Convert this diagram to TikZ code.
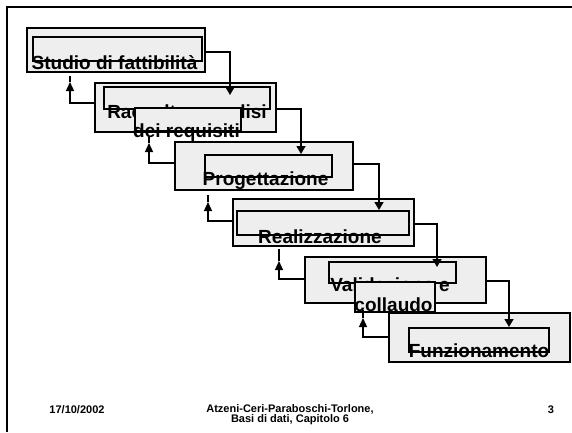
\documentclass[tikz,border=0pt]{standalone}
\usepackage{fontspec}
\setmainfont{Liberation Sans}
\usetikzlibrary{arrows.meta}
\definecolor{boxgray}{HTML}{EEEEEE}
\begin{document}
\begin{tikzpicture}[x=1pt,y=-1pt,
  stagebox/.style={draw=black,fill=boxgray,line width=1.2pt,inner sep=0pt,outer sep=0pt},
  panel/.style={draw=black,fill=boxgray,line width=1.1pt},
  stagelabel/.style={font=\fontsize{19}{22}\selectfont\bfseries,inner sep=0pt,anchor=base},
  conn/.style={line width=1.4pt},
  downtip/.style={-{Triangle[length=8pt,width=9pt]}},
  uptip/.style={-{Triangle[length=9pt,width=8pt]}},
  foot/.style={font=\fontsize{11}{10}\selectfont\bfseries,inner sep=0pt}
]
\useasboundingbox (0,0) rectangle (572,432);

% slide frame
\draw[line width=1.6pt] (7,432) -- (7,7) -- (572,7);

% stage 1
\node[stagebox,minimum width=178pt,minimum height=44pt] (b1) at (116,50) {};
\draw[panel] (33,37) rectangle (202,61);
\node[stagelabel] (t1) at (114.5,69) {Studio di fattibilità};

% stage 2
\node[stagebox,minimum width=181pt,minimum height=49pt] (b2) at (185.5,107.5) {};
\draw[panel] (104,87) rectangle (270,109);
\node[stagelabel] (t2a) at (187,118) {Raccolta e analisi};
\draw[panel] (135,108) rectangle (241,131);
\node[stagelabel] (t2b) at (186.5,137) {dei requisiti};

% stage 3
\node[stagebox,minimum width=178pt,minimum height=48pt] (b3) at (264,166) {};
\draw[panel] (205,155) rectangle (332,177);
\node[stagelabel] (t3) at (265.5,185) {Progettazione};

% stage 4
\node[stagebox,minimum width=181pt,minimum height=47pt] (b4) at (323.5,222.5) {};
\draw[panel] (237,211) rectangle (409,235);
\node[stagelabel] (t4) at (320,243) {Realizzazione};

% stage 5
\node[stagebox,minimum width=181pt,minimum height=46pt] (b5) at (395.5,280) {};
\draw[panel] (329,262) rectangle (456,283);
\node[stagelabel] (t5a) at (390,291) {Validazione e};
\draw[panel] (355,282) rectangle (435,312);
\node[stagelabel] (t5b) at (393.5,311) {collaudo};

% stage 6
\node[stagebox,minimum width=181pt,minimum height=49pt] (b6) at (479.5,337.5) {};
\draw[panel] (409,328) rectangle (549,352);
\node[stagelabel] (t6) at (479,357) {Funzionamento};

% forward connectors
\coordinate (d2) at (230,95);
\coordinate (d3) at (301,154);
\coordinate (d4) at (379,210);
\coordinate (d5) at (437,267);
\coordinate (d6) at (509,327);
\draw[conn,downtip] ([yshift=-2pt]b1.east) -| (d2);
\draw[conn,downtip] ([yshift=-1.5pt]b2.east) -| (d3);
\draw[conn,downtip] ([yshift=2pt]b3.east) -| (d4);
\draw[conn,downtip] ([yshift=-1.5pt]b4.east) -| (d5);
\draw[conn,downtip] ([yshift=-1pt]b5.east) -| (d6);

% feedback connectors
\coordinate (u1) at (70,82);   \coordinate (e1) at (70,76);
\coordinate (u2) at (149,143); \coordinate (e2) at (149,137);
\coordinate (u3) at (208,202); \coordinate (e3) at (208,195);
\coordinate (u4) at (279,261); \coordinate (e4) at (279,249);
\coordinate (u5) at (363,318); \coordinate (e5) at (363,310);
\draw[conn,uptip] ([yshift=4.5pt]b2.west) -| (u1);
\draw[conn] (u1) -- (e1);
\draw[conn,uptip] ([yshift=3pt]b3.west) -| (u2);
\draw[conn] (u2) -- (e2);
\draw[conn,uptip] ([yshift=1.5pt]b4.west) -| (u3);
\draw[conn] (u3) -- (e3);
\draw[conn,uptip] ([yshift=1pt]b5.west) -| (u4);
\draw[conn] (u4) -- (e4);
\draw[conn,uptip] ([yshift=0.5pt]b6.west) -| (u5);
\draw[conn] (u5) -- (e5);

% footer
\node[foot] (date) at (77,410) {17/10/2002};
\node[foot,align=center] (src) at (290,414.5) {Atzeni-Ceri-Paraboschi-Torlone,\\Basi di dati, Capitolo 6};
\node[foot] (pg) at (551,410) {3};
\end{tikzpicture}
\end{document}
